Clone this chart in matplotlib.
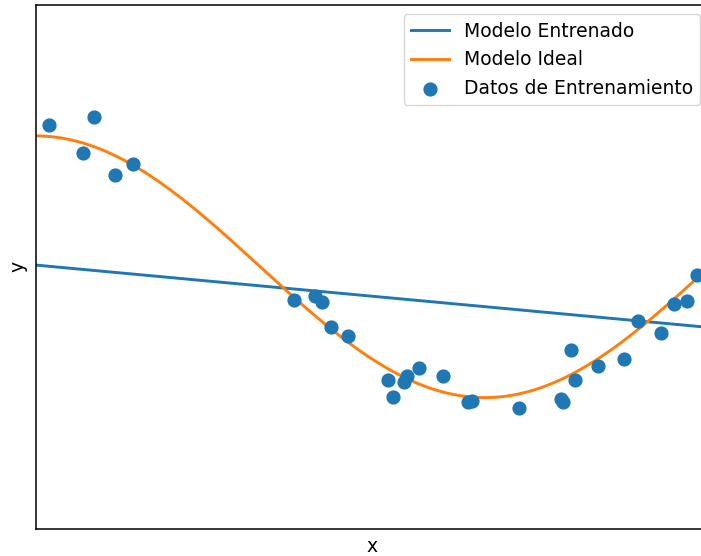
import matplotlib
matplotlib.use("Agg")
import matplotlib.pyplot as plt
import numpy as np

# muestras de entrenamiento (x en [0, 1])
x_train = [0.020, 0.087, 0.071, 0.118, 0.144, 0.384, 0.415, 0.425, 0.438, 0.463,
           0.523, 0.531, 0.546, 0.551, 0.569, 0.604, 0.641, 0.648, 0.717, 0.780,
           0.782, 0.794, 0.801, 0.835, 0.873, 0.894, 0.928, 0.947, 0.966, 0.981]
y_train = [1.081, 1.144, 0.869, 0.703, 0.785, -0.254, -0.221, -0.269, -0.458, -0.531,
           -0.865, -0.996, -0.880, -0.832, -0.774, -0.835, -1.030, -1.027, -1.079, -1.010,
           -1.035, -0.638, -0.863, -0.756, -0.702, -0.412, -0.506, -0.282, -0.261, -0.060]

# modelo lineal entrenado: y = pendiente * x + intercepto
pendiente = -0.477
intercepto = 0.013


def funcion_ideal(x):
    return np.cos(1.5 * np.pi * x)


x_plot = np.linspace(0, 1, 300)

fig = plt.figure(figsize=(7.01, 5.56), dpi=100)
ax = fig.add_axes([35.5 / 701, 27.5 / 556, 674 / 701, 523.5 / 556])

ax.plot(x_plot, pendiente * x_plot + intercepto, color="#1f77b4", lw=2.1, label="Modelo Entrenado")
ax.plot(x_plot, funcion_ideal(x_plot), color="#ff7f0e", lw=2.1, label="Modelo Ideal")
ax.scatter(x_train, y_train, s=85, color="#1f77b4", label="Datos de Entrenamiento", zorder=3)

ax.set_xlim(0, 1)
ax.set_ylim(-2, 2)
ax.set_xticks([])
ax.set_yticks([])
ax.set_xlabel("x", fontsize=13.5, labelpad=6)
ax.set_ylabel("y", fontsize=13.5, labelpad=6)
for s in ax.spines.values():
    s.set_linewidth(1.1)
ax.legend(loc="upper right", fontsize=13.5)

fig.savefig("out.png", dpi=100)
